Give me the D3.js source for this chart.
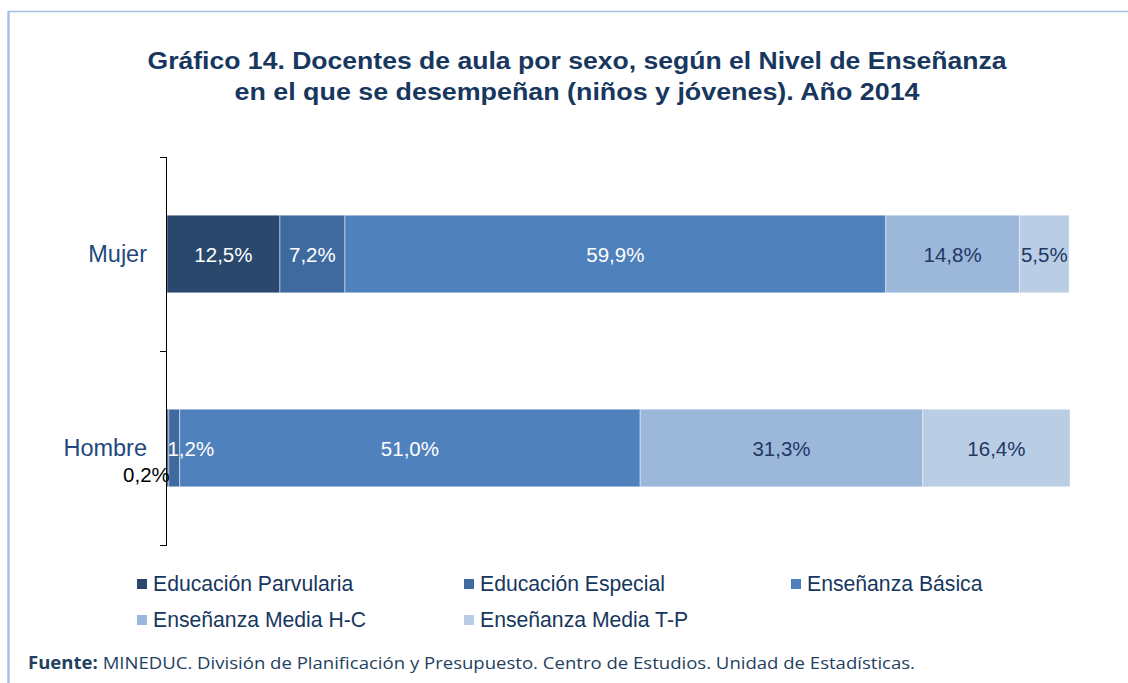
<!DOCTYPE html>
<html>
<head>
<meta charset="utf-8">
<script src="https://cdn.jsdelivr.net/npm/d3@7"></script>
<style>
  body { margin: 0; background: #fff; }
  svg { display: block; }
</style>
</head>
<body>
<div id="chart"></div>
<script>
// Data
const groups = ['Mujer', 'Hombre'];
const levels = ['Educación Parvularia', 'Educación Especial', 'Enseñanza Básica', 'Enseñanza Media H-C', 'Enseñanza Media T-P'];
const mujerValues = [12.5, 7.2, 59.9, 14.8, 5.5];
const hombreValues = [0.2, 1.2, 51.0, 31.3, 16.4];
const levelColors = ['#2a486c', '#3e6aa0', '#4f81bd', '#9bb7da', '#b9cde5'];
const labelColors = ['#ffffff', '#ffffff', '#ffffff', '#1f3864', '#1f3864'];
const titleLines = [
  'Gráfico 14. Docentes de aula por sexo, según el Nivel de Enseñanza',
  'en el que se desempeñan (niños y jóvenes). Año 2014'
];
const titleWidths = [859, 685];

const W = 1128, H = 683;
const margin = { left: 167, right: 58, top: 157, bottom: 138 };
const navy = '#17375e';

const svg = d3.select('#chart').append('svg')
  .attr('width', W)
  .attr('height', H)
  .style('font-family', '"Liberation Sans", Arial, sans-serif');

// frame lines (top and left edges of the surrounding box)
svg.append('line').attr('x1', 8).attr('x2', W).attr('y1', 11.5).attr('y2', 11.5)
  .attr('stroke', '#a7c0e6').attr('stroke-width', 1.5);
svg.append('line').attr('x1', 8.5).attr('x2', 8.5).attr('y1', 11).attr('y2', H)
  .attr('stroke', '#a7c0e6').attr('stroke-width', 2.5);

// Title (stretched a little wider, like the original)
svg.append('g').selectAll('text')
  .data(titleLines)
  .join('text')
  .attr('x', 577)
  .attr('y', (d, i) => 69 + i * 31)
  .attr('text-anchor', 'middle')
  .attr('fill', navy)
  .attr('textLength', (d, i) => titleWidths[i])
  .attr('lengthAdjust', 'spacingAndGlyphs')
  .style('font-size', '23px')
  .style('font-weight', 'bold')
  .text(d => d);

const x = d3.scaleLinear().domain([0, 100]).range([margin.left, W - margin.right]);
const y = d3.scaleBand().domain(groups).range([margin.top, H - margin.bottom]).paddingInner(0.6).paddingOuter(0.3);

// stack the rows
const rows = groups.map((g, gi) => {
  const vals = gi === 0 ? mujerValues : hombreValues;
  let acc = 0;
  return vals.map((v, i) => {
    const seg = { group: g, level: i, value: v, x0: acc, x1: acc + v };
    acc += v;
    return seg;
  });
});
const segs = rows.flat();

svg.append('g').selectAll('rect')
  .data(segs)
  .join('rect')
  .attr('x', d => x(d.x0))
  .attr('width', d => Math.max(0, x(Math.min(d.x1, 100)) - x(d.x0)))
  .attr('y', d => y(d.group))
  .attr('height', y.bandwidth())
  .attr('fill', d => levelColors[d.level])
  .attr('stroke', 'rgba(255,255,255,0.45)')
  .attr('stroke-width', 1);

// value labels
const fmt = v => v.toFixed(1).replace('.', ',') + '%';
svg.append('g').selectAll('text')
  .data(segs)
  .join('text')
  .attr('x', d => {
    if (d.value < 1) return x(d.x1) + 1;
    if (d.value < 2) return x(d.x0) + 22;
    return x((d.x0 + Math.min(d.x1, 100)) / 2);
  })
  .attr('y', d => y(d.group) + y.bandwidth() / 2 + (d.value < 1 ? 34 : 8))
  .attr('text-anchor', d => d.value < 1 ? 'end' : 'middle')
  .attr('fill', d => d.value < 1 ? '#000' : labelColors[d.level])
  .style('font-size', '20.5px')
  .text(d => fmt(d.value));

// y axis: line with ticks at band boundaries
const axisG = svg.append('g');
axisG.append('line')
  .attr('x1', x(0) - 0.5).attr('x2', x(0) - 0.5)
  .attr('y1', margin.top).attr('y2', H - margin.bottom)
  .attr('stroke', '#000');
const tickYs = [margin.top, (y('Mujer') + y.bandwidth() + y('Hombre')) / 2, H - margin.bottom];
axisG.selectAll('.tick')
  .data(tickYs)
  .join('line')
  .attr('x1', x(0) - 7).attr('x2', x(0))
  .attr('y1', d => Math.round(d) + 0.5).attr('y2', d => Math.round(d) + 0.5)
  .attr('stroke', '#000');
axisG.selectAll('.cat')
  .data(groups)
  .join('text')
  .attr('x', x(0) - 20)
  .attr('y', d => y(d) + y.bandwidth() / 2 + 8)
  .attr('text-anchor', 'end')
  .attr('fill', '#1f497d')
  .style('font-size', '23.5px')
  .text(d => d);

// legend
const legendCols = [137, 464, 791];
const legend = svg.append('g').selectAll('g')
  .data(levels)
  .join('g')
  .attr('transform', (d, i) => `translate(${legendCols[i % 3]},${579 + Math.floor(i / 3) * 36})`);
legend.append('rect')
  .attr('width', 10).attr('height', 10)
  .attr('fill', (d, i) => levelColors[i]);
legend.append('text')
  .attr('x', 16).attr('y', 12)
  .attr('fill', navy)
  .style('font-size', '21.2px')
  .text(d => d);

// source note
const src = svg.append('text')
  .attr('x', 28).attr('y', 669)
  .attr('fill', '#243f60')
  .attr('textLength', 887)
  .attr('lengthAdjust', 'spacingAndGlyphs')
  .style('font-family', '"Open Sans", sans-serif')
  .style('font-size', '17px');
src.append('tspan').style('font-weight', 'bold').text('Fuente:');
src.append('tspan').text(' MINEDUC. División de Planificación y Presupuesto. Centro de Estudios. Unidad de Estadísticas.');
</script>
</body>
</html>
